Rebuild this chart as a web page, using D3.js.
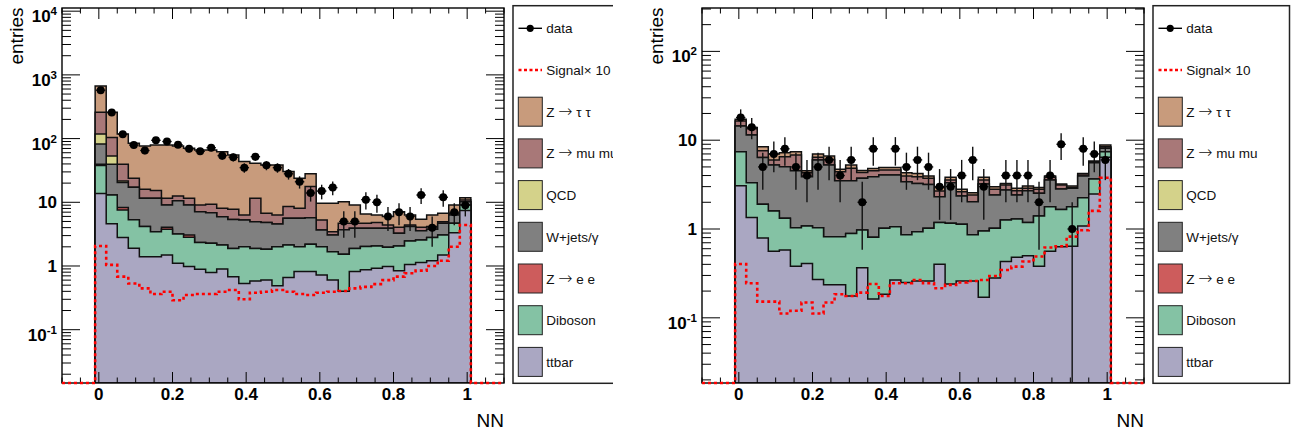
<!DOCTYPE html>
<html lang="en">
<meta charset="utf-8" />
<style>
  body { margin: 0; background: #fff; }
  svg { font-family: "Liberation Sans", Arial, Helvetica, sans-serif; }
</style>
<svg width="1301" height="435"></svg>
<script src="https://d3js.org/d3.v7.min.js"></script>
<script>
// bin edges of the NN histogram (34 filled bins), axis runs -0.1 .. 1.1
var binEdges = [-0.01, 0.02, 0.05, 0.08, 0.11, 0.14, 0.17, 0.20, 0.23, 0.26, 0.29, 0.32,
  0.35, 0.38, 0.41, 0.44, 0.47, 0.50, 0.53, 0.56, 0.59, 0.62, 0.65, 0.68, 0.71, 0.74,
  0.77, 0.80, 0.83, 0.86, 0.89, 0.92, 0.95, 0.98, 1.01];
var xRange = [-0.1, 1.1];
var xTicks = [0, 0.2, 0.4, 0.6, 0.8, 1];
var xTickLabels = ["0", "0.2", "0.4", "0.6", "0.8", "1"];

// stack, bottom to top
var stackLabels = ["ttbar", "Diboson", "Z \u2192 e e", "W+jets/\u03b3", "QCD", "Z \u2192 mu mu", "Z \u2192 \u03c4 \u03c4"];
var stackColors = ["#aaa7c2", "#84c2a4", "#cd5c5c", "#808080", "#d4d28a", "#a87878", "#c89b7c"];
var legendLabels = ["data", "Signal\u00d7 10", "Z \u2192 \u03c4 \u03c4", "Z \u2192 mu mu", "QCD", "W+jets/\u03b3", "Z \u2192 e e", "Diboson", "ttbar"];

// ---- left plot ----
var ttbarL = [13.8, 4.6, 2.8, 1.9, 1.4, 1.4, 1.49, 1.1, 0.98, 0.89, 0.79, 0.9, 0.68, 0.53, 0.58, 0.6, 0.49,
  0.66, 0.82, 0.82, 0.72, 0.6, 0.4, 0.82, 0.87, 0.92, 0.98, 0.84, 1.06, 1.13, 1.21, 1.49, 3.34, 7.4];
var dibosonL = [23.9, 8.4, 4.8, 3.4, 2.75, 2.06, 2.28, 2.08, 1.84, 1.44, 1.48, 1.24, 1.21, 1.48, 1.31, 1.23, 1.52,
  1.48, 1.19, 1.37, 1.29, 1.08, 1.13, 1.07, 1.15, 1.14, 0.98, 1.22, 1.41, 1.43, 1.58, 1.58, 1.34, 1.66];
var zeeL = [1.8, 0, 0.66, 0, 0, 0, 0.28, 0, 0.25, 0, 0, 0, 0, 0, 0, 0, 0,
  0, 0, 0, 0, 0, 0, 0, 0, 0, 0, 0, 0, 0, 0, 0, 0, 0];
var wjetsL = [43, 26.5, 12.2, 11.9, 7.4, 8.1, 5.0, 7.4, 6.0, 4.8, 4.6, 3.8, 3.5, 3.27, 3.08, 2.97, 2.56,
  3.47, 3.6, 3.55, 1.67, 1.39, 2.16, 2.02, 1.9, 1.85, 1.95, 1.2, 1.68, 1.03, 0.98, 1.61, 1.64, 1.1];
var qcdL = [35.5, 13.9, 1.2, 0, 0, 0, 0, 0, 0, 0, 0, 0, 0, 0, 0, 0, 0,
  0, 0, 0, 0, 0, 0, 0, 0, 0, 0, 0, 0, 0, 0, 0, 0, 0];
var zmumuL = [141, 50.6, 17.9, 6.6, 4.4, 3.7, 2.5, 2.0, 2.5, 1.95, 2.43, 2.1, 2.36, 1.04, 6.6, 1.92, 1.75,
  2.94, 2.45, 11.9, 1.6, 0.39, 1.0, 0.77, 0.77, 0.89, 0.49, 0.79, 0.25, 0.46, 0.38, 0.29, 0.4, 0.7];
var ztautauL = [412, 155, 78.5, 60.7, 60.7, 64.3, 68, 64, 59, 57, 57, 54, 47.6, 37.2, 29.4, 31.9, 32.3,
  21.8, 15.8, 10.3, 4.36, 6.18, 5.5, 4.4, 1.88, 1.52, 1.56, 3.08, 1.92, 1.36, 2.17, 1.75, 2.36, 0.9];
var dataL = [575, 256, 117, 79, 65, 94, 90, 80, 69, 63, 72, 54, 51, 35, 52, 38, 35,
  28, 21, 14, 15, 17, 5, 5, 11, 10, 6, 7, 6, 13, 4, 12, 7, 9];
var signalL = [2.06, 1.04, 0.68, 0.53, 0.446, 0.363, 0.395, 0.29, 0.35, 0.363, 0.363, 0.395, 0.42, 0.30, 0.38, 0.395, 0.42,
  0.395, 0.363, 0.35, 0.38, 0.395, 0.405, 0.446, 0.47, 0.52, 0.60, 0.68, 0.77, 0.845, 1.0, 1.21, 2.01, 4.4];

// ---- right plot ----
var ttbarR = [3.07, 1.35, 0.79, 0.56, 0.58, 0.38, 0.41, 0.27, 0.235, 0.235, 0.176, 0.367, 0.163, 0.184, 0.267, 0.25, 0.26,
  0.26, 0.40, 0.24, 0.26, 0.26, 0.17, 0.28, 0.43, 0.48, 0.50, 0.38, 0.56, 0.63, 0.64, 1.08, 2.48, 6.41];
var dibosonR = [4.35, 1.97, 1.11, 1.03, 0.74, 0.65, 0.67, 0.76, 0.585, 0.585, 0.714, 0.607, 0.643, 0.836, 0.793, 0.61, 0.67,
  0.76, 0.78, 0.92, 0.87, 0.6, 0.78, 0.74, 0.83, 0.82, 0.68, 1.02, 1.22, 1.03, 1.14, 1.17, 1.17, 1.01];
var zeeR = [0, 0, 0, 0, 0, 0, 0, 0, 0, 0, 0, 0, 0, 0, 0, 0, 0,
  0, 0, 0, 0, 0, 0, 0, 0, 0, 0, 0, 0, 0, 0, 0, 0, 0];
var wjetsR = [7.0, 8.1, 4.5, 3.66, 3.71, 3.5, 2.8, 4.95, 4.43, 2.68, 2.61, 2.75, 3.07, 3.03, 2.99, 2.55, 2.33,
  2.16, 1.13, 2.16, 1.22, 1.17, 2.26, 1.39, 1.49, 1.11, 1.52, 1.12, 1.78, 1.16, 1.09, 1.7, 1.93, 0.67];
var qcdR = [0, 0, 0, 0, 0, 0, 0, 0, 0, 0, 0, 0, 0, 0, 0, 0, 0,
  0, 0, 0, 0, 0, 0, 0, 0, 0, 0, 0, 0, 0, 0, 0, 0, 0];
var zmumuR = [2.0, 2.0, 1.2, 0.73, 1.49, 2.27, 0.43, 0.43, 0.83, 0.92, 1.32, 0.59, 0.66, 0.56, 0.56, 0.54, 0.62,
  0.54, 0.37, 0.24, 0.28, 0.38, 0.35, 0.39, 0.38, 0.29, 0.17, 0.28, 0.26, 0.31, 0.07, 0.21, 0.14, 0.36];
var ztautauR = [0.8, 0.5, 0.83, 1.0, 0.71, 0.61, 0.23, 0.59, 0.56, 0.28, 0.43, 0.23, 0.28, 0.33, 0.33, 0.36, 0.35,
  0.23, 0.26, 0.26, 0.17, 0.15, 0.26, 0.19, 0.13, 0.17, 0.18, 0.14, 0.13, 0.08, 0.11, 0.07, 0.1, 0.38];
var dataR = [18, 14, 5, 7, 8, 5, 4, 5, 6, 4, 6, 2, 8, 0, 8, 5, 6,
  5, 3, 3, 4, 6, 3, 0, 4, 4, 4, 2, 4, 9, 1, 8, 7, 6];
var signalR = [0.404, 0.245, 0.152, 0.152, 0.112, 0.12, 0.149, 0.112, 0.149, 0.184, 0.176, 0.192, 0.24, 0.176, 0.245, 0.245, 0.267,
  0.245, 0.215, 0.235, 0.25, 0.26, 0.267, 0.296, 0.345, 0.377, 0.43, 0.49, 0.62, 0.64, 0.82, 0.97, 1.6, 3.78];

var panels = [
  { x0: 0, clipW: 613, yDomain: [0.01456, 11220], yLabels: [0.1, 1, 10, 100, 1000, 10000],
    layers: [ttbarL, dibosonL, zeeL, wjetsL, qcdL, zmumuL, ztautauL], data: dataL, signal: signalL },
  { x0: 640, clipW: 661, yDomain: [0.01845, 308], yLabels: [0.1, 1, 10, 100],
    layers: [ttbarR, dibosonR, zeeR, wjetsR, qcdR, zmumuR, ztautauR], data: dataR, signal: signalR }
];

var svg = d3.select("svg");
var L = 62, R = 504, T = 8, B = 383;

function stepPath(vals, x, y, closeIt) {
  var p = d3.path();
  p.moveTo(x(binEdges[0]), B);
  vals.forEach(function(v, i) {
    var yy = v > 0 ? y(v) : B;
    p.lineTo(x(binEdges[i]), yy);
    p.lineTo(x(binEdges[i + 1]), yy);
  });
  p.lineTo(x(binEdges[binEdges.length - 1]), B);
  if (closeIt) p.closePath();
  return p.toString();
}

// the arrow is taken from DejaVu and set larger, it is long and thin in the original
function labelText(sel, lab) {
  var parts = lab.split("\u2192");
  sel.append("tspan").text(parts[0]);
  if (parts.length > 1) {
    sel.append("tspan").attr("font-family", "DejaVu Sans").attr("font-size", 17)
      .attr("font-weight", 200).text("\u2192");
    sel.append("tspan").text(parts[1]);
  }
}

panels.forEach(function(pn, pi) {
  var g = svg.append("g").attr("transform", "translate(" + pn.x0 + ",0)");
  var clipId = "panel" + pi, frameId = "frame" + pi;
  svg.append("clipPath").attr("id", clipId).append("rect")
    .attr("x", 0).attr("y", 0).attr("width", pn.clipW).attr("height", 435);
  svg.append("clipPath").attr("id", frameId).append("rect")
    .attr("x", L).attr("y", T).attr("width", R - L).attr("height", B - T);
  g.attr("clip-path", "url(#" + clipId + ")");

  var x = d3.scaleLinear().domain(xRange).range([L, R]);
  var y = d3.scaleLog().domain(pn.yDomain).range([B, T]);

  // cumulative stack
  var cum = [], run = pn.data.map(function() { return 0; });
  pn.layers.forEach(function(layer) {
    run = run.map(function(s, i) { return s + layer[i]; });
    cum.push(run);
  });

  var hist = g.append("g").attr("clip-path", "url(#" + frameId + ")");
  for (var k = cum.length - 1; k >= 0; k--) {
    hist.append("path")
      .attr("d", stepPath(cum[k], x, y, true))
      .attr("fill", stackColors[k])
      .attr("stroke", "#111")
      .attr("stroke-width", 1.5)
      .attr("stroke-linejoin", "miter");
  }

  // axes: ticks inside the frame on all four sides
  var ax = g.append("g").attr("stroke", "#000").attr("stroke-width", 1);
  var yMinor = [];
  for (var e = -2; e <= 4; e++) {
    for (var m = 1; m <= 9; m++) {
      var v = m * Math.pow(10, e);
      if (v >= pn.yDomain[0] && v <= pn.yDomain[1]) yMinor.push({ v: v, major: m === 1 });
    }
  }
  yMinor.forEach(function(t) {
    var len = t.major ? 18 : 9, yy = y(t.v);
    ax.append("line").attr("x1", L).attr("x2", L + len).attr("y1", yy).attr("y2", yy);
    ax.append("line").attr("x1", R).attr("x2", R - len).attr("y1", yy).attr("y2", yy);
  });
  d3.range(-0.1, 1.1001, 0.05).forEach(function(v) {
    var major = xTicks.some(function(t) { return Math.abs(t - v) < 1e-6; });
    var len = major ? 11 : 5.5, xx = x(v);
    ax.append("line").attr("x1", xx).attr("x2", xx).attr("y1", B).attr("y2", B - len);
    ax.append("line").attr("x1", xx).attr("x2", xx).attr("y1", T).attr("y2", T + len);
  });
  g.append("rect").attr("x", L).attr("y", T).attr("width", R - L).attr("height", B - T)
    .attr("fill", "none").attr("stroke", "#000").attr("stroke-width", 1.4);

  // tick labels
  xTicks.forEach(function(t, i) {
    g.append("text").attr("x", x(t)).attr("y", 400).attr("text-anchor", "middle")
      .attr("font-size", 17).attr("font-weight", "bold").text(xTickLabels[i]);
  });
  pn.yLabels.forEach(function(v) {
    var ex = Math.round(Math.log10(v)), yy = y(v);
    var t = g.append("text").attr("x", 57).attr("text-anchor", "end")
      .attr("font-size", 17).attr("font-weight", "bold");
    if (ex === 0 || ex === 1) {
      t.attr("y", yy + 6).text(ex === 0 ? "1" : "10");
    } else {
      t.attr("y", yy + 11);
      t.append("tspan").text("10");
      t.append("tspan").attr("font-size", 11.5).attr("dy", -7).text(String(ex));
    }
  });
  g.append("text").attr("transform", "translate(23,7.5) rotate(-90)")
    .attr("text-anchor", "end").attr("font-size", 19).text("entries");
  g.append("text").attr("x", R).attr("y", 427).attr("text-anchor", "end")
    .attr("font-size", 19).text("NN");

  // signal x 10, red dotted over the full axis
  var sp = d3.path();
  sp.moveTo(x(xRange[0]), B);
  sp.lineTo(x(binEdges[0]), B);
  pn.signal.forEach(function(v, i) {
    sp.lineTo(x(binEdges[i]), y(v));
    sp.lineTo(x(binEdges[i + 1]), y(v));
  });
  sp.lineTo(x(binEdges[binEdges.length - 1]), B);
  sp.lineTo(x(xRange[1]), B);
  g.append("path").attr("d", sp.toString()).attr("fill", "none")
    .attr("stroke", "#ff0000").attr("stroke-width", 2.6).attr("stroke-dasharray", "3,3");

  // data with sqrt(N) errors
  var dg = g.append("g").attr("clip-path", "url(#" + frameId + ")");
  pn.data.forEach(function(n, i) {
    if (n <= 0) return;
    var cx = x((binEdges[i] + binEdges[i + 1]) / 2), cy = y(n);
    var err = Math.sqrt(n), lo = n - err;
    dg.append("line").attr("x1", cx).attr("x2", cx)
      .attr("y1", lo > 0 ? y(lo) : B).attr("y2", y(n + err))
      .attr("stroke", "#111").attr("stroke-width", 1.4);
    dg.append("line").attr("x1", x(binEdges[i]) + 0.8).attr("x2", x(binEdges[i + 1]) - 0.8)
      .attr("y1", cy).attr("y2", cy).attr("stroke", "#111").attr("stroke-width", 1.4);
    dg.append("circle").attr("cx", cx).attr("cy", cy).attr("r", 4).attr("fill", "#000");
  });

  // legend
  var lx = 513, ly = 5.7, lw = 136.5, lh = 377.6, step = 41.7, c0 = 28.3;
  var lg = g.append("g");
  lg.append("rect").attr("x", lx).attr("y", ly).attr("width", lw).attr("height", lh)
    .attr("fill", "#fff").attr("stroke", "#222").attr("stroke-width", 1.5);
  legendLabels.forEach(function(lab, i) {
    var cy = c0 + step * i;
    if (i === 0) {
      lg.append("line").attr("x1", lx + 5.5).attr("x2", lx + 29).attr("y1", cy).attr("y2", cy)
        .attr("stroke", "#000").attr("stroke-width", 1.4);
      lg.append("circle").attr("cx", lx + 17.2).attr("cy", cy).attr("r", 3.6).attr("fill", "#000");
    } else if (i === 1) {
      lg.append("line").attr("x1", lx + 5.5).attr("x2", lx + 29).attr("y1", cy).attr("y2", cy)
        .attr("stroke", "#ff0000").attr("stroke-width", 2.6).attr("stroke-dasharray", "3,2.5");
    } else {
      var si = stackLabels.indexOf(lab);
      lg.append("rect").attr("x", lx + 5.3).attr("y", cy - 14.5).attr("width", 24).attr("height", 29)
        .attr("fill", stackColors[si]).attr("stroke", "#222").attr("stroke-width", 1);
    }
    var t = lg.append("text").attr("x", lx + 33.3).attr("y", cy + 5).attr("font-size", 13.5)
      .attr("fill", "#111");
    labelText(t, lab);
  });
});
</script>
</html>
